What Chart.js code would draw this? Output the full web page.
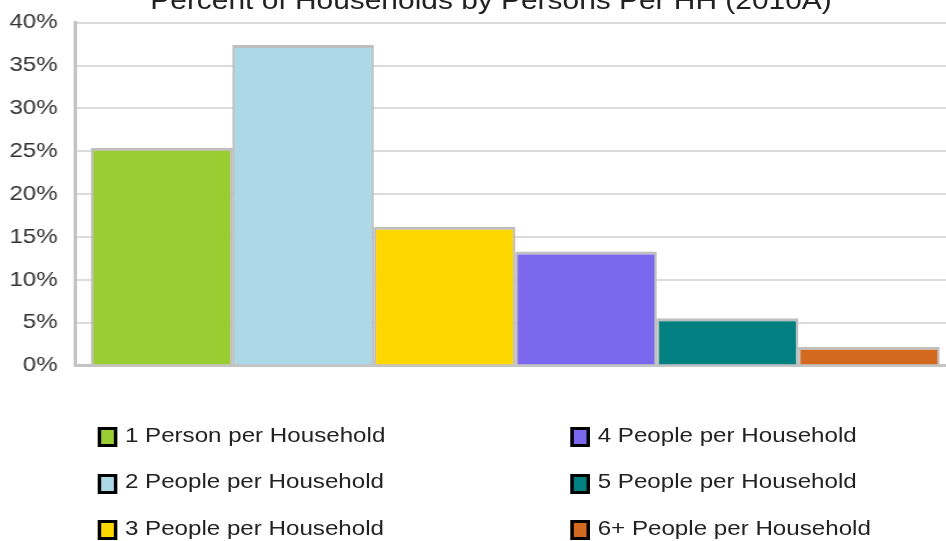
<!DOCTYPE html>
<html>
<head>
<meta charset="utf-8">
<script src="https://cdn.jsdelivr.net/npm/chart.js@4/dist/chart.umd.min.js"></script>
<style>
  html, body { margin: 0; padding: 0; background: #fff; overflow: hidden; width: 946px; height: 541px; }
  #wrap { position: absolute; left: 0; top: 0; width: 831px; height: 541px; transform: scaleX(1.15); transform-origin: 0 0; }
  #chart { position: absolute; left: 0; top: 0; }
  #title { position: absolute; left: 0; width: 854px; top: -13.5px; text-align: center;
           font: 26px/26px "Liberation Sans", Arial, sans-serif; color: #222; white-space: nowrap; }
  .item { position: absolute; font: 21px/21px "Liberation Sans", Arial, sans-serif; color: #222; white-space: nowrap; padding-left: 24px; }
  .box { position: absolute; left: 0; top: 3.3px; width: 17px; height: 20px; box-sizing: border-box; border: 3px solid #000; }
</style>
</head>
<body>
<div id="wrap">
  <div id="title"></div>
  <canvas id="chart" width="831" height="541" style="width:831px;height:541px"></canvas>
  <div id="legend"></div>
</div>
<script>
const titleText = 'Percent of Households by Persons Per HH (2010A)';
const categories = [
  '1 Person per Household',
  '2 People per Household',
  '3 People per Household',
  '4 People per Household',
  '5 People per Household',
  '6+ People per Household'
];
const values = [25.4, 37.4, 16.2, 13.3, 5.5, 2.2];
const colors = ['#9acd32', '#add8e6', '#ffd700', '#7b68ee', '#008080', '#d2691e'];
const yTickValues = [0, 5, 10, 15, 20, 25, 30, 35, 40];
const yTickSuffix = '%';

document.getElementById('title').textContent = titleText;

const FONT = '"Liberation Sans", Arial, sans-serif';
const ctx = document.getElementById('chart').getContext('2d');
new Chart(ctx, {
  type: 'bar',
  data: {
    labels: [''],
    datasets: categories.map((c, i) => ({
      label: c,
      data: [values[i]],
      backgroundColor: colors[i],
      borderColor: '#bfbfbf',
      borderWidth: { top: 3, left: 2, right: 2, bottom: 0 },
      borderSkipped: false,
      barPercentage: 1,
      categoryPercentage: 0.9637
    }))
  },
  options: {
    responsive: false,
    animation: false,
    layout: { autoPadding: false, padding: { left: 8.2, top: 22.7, right: 0, bottom: 175.5 } },
    plugins: { legend: { display: false }, title: { display: false }, tooltip: { enabled: false } },
    scales: {
      x: {
        grid: { display: false, drawTicks: false },
        ticks: { display: false },
        border: { display: true, color: '#c4c4c4', width: 3 },
        afterFit: (s) => { s.height = 0; s.paddingLeft = 0; s.paddingRight = 0; }
      },
      y: {
        min: yTickValues[0],
        max: yTickValues[yTickValues.length - 1],
        afterBuildTicks: (scale) => { scale.ticks = yTickValues.map(v => ({ value: v })); },
        afterFit: (s) => { s.width = 57; s.paddingTop = 0; s.paddingBottom = 0; },
        ticks: {
          callback: (v) => v + yTickSuffix,
          padding: 15,
          color: '#333',
          font: { family: FONT, size: 21 }
        },
        grid: { color: '#dcdcdc', lineWidth: 2, drawTicks: false },
        border: { color: '#c4c4c4', width: 3 }
      }
    }
  }
});

// Legend (two columns, three rows), built from the data arrays
const legend = document.getElementById('legend');
const colLeft = [84.6, 495.7];
const rowBaseline = [441.5, 488.2, 535];
categories.forEach((c, i) => {
  const col = Math.floor(i / 3), row = i % 3;
  const item = document.createElement('div');
  item.className = 'item';
  item.style.left = colLeft[col] + 'px';
  item.style.top = (rowBaseline[row] - 17.8) + 'px';
  const box = document.createElement('span');
  box.className = 'box';
  box.style.background = colors[i];
  item.appendChild(box);
  item.appendChild(document.createTextNode(c));
  legend.appendChild(item);
});
</script>
</body>
</html>
